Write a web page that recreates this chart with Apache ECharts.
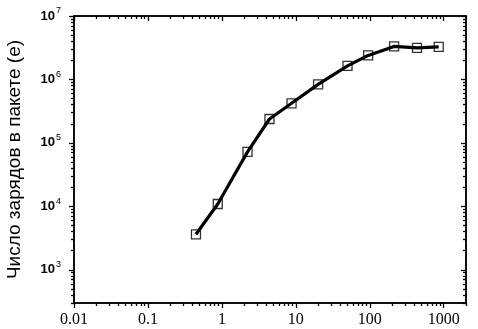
<!DOCTYPE html>
<html>
<head>
<meta charset="utf-8">
<script src="https://cdn.jsdelivr.net/npm/echarts@6/dist/echarts.min.js"></script>
<style>
html,body{margin:0;padding:0;background:#fff;}
#c{width:478px;height:329px;}
</style>
</head>
<body>
<div id="c"></div>
<script>
// Data
var xValues = [0.446, 0.88, 2.22, 4.4, 8.75, 20, 50, 95, 213, 435, 855];
var yValues = [3630, 10900, 72300, 238000, 421000, 836000, 1640000, 2390000, 3310000, 3140000, 3260000];
var xMajorTicks = [0.01, 0.1, 1, 10, 100, 1000];
var yMajorTicks = [1e3, 1e4, 1e5, 1e6, 1e7];
var yAxisTitle = 'Число зарядов в пакете (e)';

function minorTicks(lo, hi, max, min) {
  var out = [];
  for (var d = lo; d <= hi; d *= 10) {
    for (var k = 2; k <= 9; k++) {
      var v = d * k;
      if (v >= min && v <= max) out.push(+v.toPrecision(6));
    }
  }
  return out;
}
var X_MIN = 0.01, X_MAX = 2000, Y_MIN = 300, Y_MAX = 1e7;
var xMinorTicks = minorTicks(0.01, 1000, X_MAX, X_MIN);
var yMinorTicks = minorTicks(100, 1e6, Y_MAX, Y_MIN);

var pts = xValues.map(function (x, i) { return [x, yValues[i]]; });

var SERIF = '"Liberation Serif", "Times New Roman", serif';
var SANS = '"Liberation Sans", Arial, sans-serif';

function xAxisDef(pos, ticks, len, inside, labels) {
  return {
    type: 'log', position: pos, min: X_MIN, max: X_MAX,
    axisLine: {show: true, lineStyle: {color: '#000', width: 1.5}},
    axisTick: {show: true, customValues: ticks, length: len, inside: inside, lineStyle: {color: '#000', width: 1.3}},
    axisLabel: labels ? {
      show: true, customValues: xMajorTicks, margin: 9,
      fontFamily: SERIF, fontSize: 16, color: '#000',
      formatter: function (v) { return String(+v.toPrecision(6)); }
    } : {show: false},
    splitLine: {show: false}, minorTick: {show: false}
  };
}
function yAxisDef(pos, ticks, len, inside, labels) {
  var ax = {
    type: 'log', position: pos, min: Y_MIN, max: Y_MAX,
    axisLine: {show: true, lineStyle: {color: '#000', width: 1.5}},
    axisTick: {show: true, customValues: ticks, length: len, inside: inside, lineStyle: {color: '#000', width: 1.3}},
    axisLabel: labels ? {
      show: true, customValues: yMajorTicks, margin: 13, color: '#000',
      formatter: function (v) { var e = Math.round(Math.log10(v)); return '{b|10}{s|' + e + '}'; },
      rich: {
        b: {fontFamily: SANS, fontSize: 13, fontWeight: 'bold', color: '#000'},
        s: {fontFamily: SANS, fontSize: 9, color: '#000', verticalAlign: 'top', padding: [0, 0, 10, 1]}
      }
    } : {show: false},
    splitLine: {show: false}, minorTick: {show: false}
  };
  if (labels) {
    ax.name = yAxisTitle;
    ax.nameLocation = 'middle';
    ax.nameGap = 50;
    ax.nameTextStyle = {fontFamily: SANS, fontSize: 19, color: '#000'};
  }
  return ax;
}

var chart = echarts.init(document.getElementById('c'), null, {renderer: 'canvas'});
chart.setOption({
  animation: false,
  backgroundColor: '#fff',
  grid: {left: 74, right: 12, top: 16, bottom: 26, containLabel: false, outerBoundsMode: 'none'},
  xAxis: [
    xAxisDef('bottom', xMajorTicks, 5, false, true),
    xAxisDef('bottom', xMinorTicks, 3, false, false),
    xAxisDef('top', xMajorTicks, 5, true, false),
    xAxisDef('top', xMinorTicks, 3, true, false)
  ],
  yAxis: [
    yAxisDef('left', yMajorTicks, 5, false, true),
    yAxisDef('left', yMinorTicks, 3, false, false),
    yAxisDef('right', yMajorTicks, 5, true, false),
    yAxisDef('right', yMinorTicks, 3, true, false)
  ],
  series: [
    {
      type: 'line', data: pts, xAxisIndex: 0, yAxisIndex: 0,
      showSymbol: false, symbol: 'none',
      lineStyle: {color: '#000', width: 3.2}
    },
    {
      type: 'scatter', data: pts, xAxisIndex: 0, yAxisIndex: 0,
      symbol: 'rect', symbolSize: 15,
      itemStyle: {color: '#fff', borderWidth: 0}
    },
    {
      type: 'scatter', data: pts, xAxisIndex: 0, yAxisIndex: 0,
      symbol: 'rect', symbolSize: 9,
      itemStyle: {color: '#fff', borderColor: '#000', borderWidth: 1.3}
    }
  ]
});
</script>
</body>
</html>
